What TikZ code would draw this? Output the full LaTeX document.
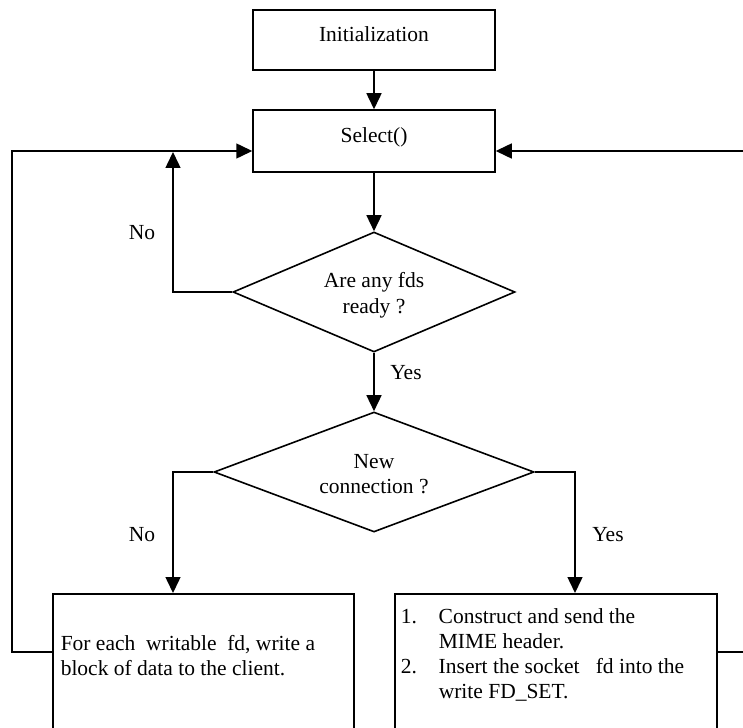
\documentclass[tikz,border=0pt]{standalone}
\usepackage{fontspec}
\setmainfont{Liberation Serif}
\usetikzlibrary{shapes.geometric,arrows.meta}
\begin{document}
\begin{tikzpicture}[x=1pt,y=1pt,
  line width=1.5pt,
  every node/.style={font=\fontsize{21.5}{25}\selectfont},
  box/.style={draw, line width=1.5pt, inner sep=0pt},
  boxtxt/.style={box, text height=15pt, text depth=12pt},
  dec/.style={draw, diamond, inner sep=0pt, line width=1.6pt},
  arr/.style={-{Triangle[length=16pt,width=15pt]}},
  lbl/.style={inner sep=0pt}
]
\useasboundingbox (0,0) rectangle (743,-727);
\clip (0,0) rectangle (743,-727);
% boxes
\node[boxtxt, minimum width=242, minimum height=60] (init) at (374,-40) {Initialization};
\node[boxtxt, minimum width=242, minimum height=62] (sel) at (374,-141) {Select()};
\node[dec, minimum width=282, minimum height=120] (d1) at (374,-292) {};
\node[lbl, align=center, font=\fontsize{21.5}{26.5}\selectfont] (d1t) at (374,-295) {Are any fds\\ready ?};
\node[dec, minimum width=320, minimum height=120] (d2) at (374,-472) {};
\node[lbl, align=center] (d2t) at (374,-474) {New\\connection ?};
\node[box, anchor=north west, minimum width=301, minimum height=170] (lbox) at (52,-593) {};
\node[box, anchor=north west, minimum width=322, minimum height=170] (rbox) at (394,-593) {};
% box texts
\node[lbl, anchor=north west, align=left] (ltxt) at (60,-635)
  {For each\ \ writable\ \ fd, write a\\block of data to the client.};
\node[lbl, anchor=north west] (rtxt) at (400,-605)
  {\begin{tabular}{@{}p{38pt}@{}l@{}}
   1. & Construct and send the\\
      & MIME header.\\
   2. & Insert the socket\ \ \ fd into the\\
      & write FD\_SET.
   \end{tabular}};
% labels
\node[lbl] (no1) at (142,-233) {No};
\node[lbl] (yes1) at (406,-373) {Yes};
\node[lbl] (no2) at (142,-535) {No};
\node[lbl] (yes2) at (608,-535) {Yes};
% junction coordinates
\coordinate (j1) at (173,-152);
\coordinate (cl1) at (12,-652);
\coordinate (cl2) at (12,-151);
\coordinate (cr1) at (746,-652);
\coordinate (cr2) at (746,-151);
% connectors
\draw[arr] (init) -- (sel);
\draw[arr] (sel) -- (d1);
\draw[arr] (d1) -- (d2);
\draw[arr] (d1.west) -| (j1);
\draw[arr] (d2.west) -| ([xshift=121pt]lbox.north west);
\draw[arr] (d2.east) -| ([xshift=181pt]rbox.north west);
\draw[arr] ([yshift=-59pt]lbox.north west) -- (cl1) -- (cl2) -- ([yshift=-10pt]sel.west);
\draw[arr] ([yshift=-59pt]rbox.north east) -- (cr1) -- (cr2) -- ([yshift=-10pt]sel.east);
\end{tikzpicture}
\end{document}
